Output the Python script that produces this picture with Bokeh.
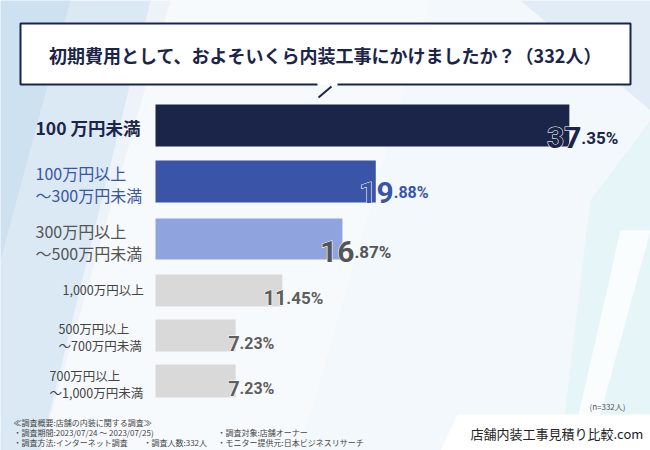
from bokeh.plotting import figure
from bokeh.models import Range1d, ColumnDataSource
from bokeh.core.properties import value
from bokeh.embed import file_html
from bokeh.resources import INLINE

# ---------------- data ----------------
categories = [
    "100 万円未満",
    "100万円以上\n～300万円未満",
    "300万円以上\n～500万円未満",
    "1,000万円以上",
    "500万円以上\n～700万円未満",
    "700万円以上\n～1,000万円未満",
]
values = [37.35, 19.88, 16.87, 11.45, 7.23, 7.23]
title_text = "初期費用として、およそいくら内装工事にかけましたか？（332人）"
sample_note = "(n=332人)"
survey_head = "≪調査概要:店舗の内装に関する調査≫"
survey_col1 = ["・調査期間:2023/07/24 ～ 2023/07/25)", "・調査方法:インターネット調査"]
survey_mid = ["", "・調査人数:332人"]
survey_col2 = ["・調査対象:店舗オーナー", "・モニター提供元:日本ビジネスリサーチ"]
brand = "店舗内装工事見積り比較.com"

# ---------------- layout / style ----------------
W, H = 650, 450
BAR_LEFT = 155.0
PX_PER_PCT = 11.08


def X(px):
    return (px - BAR_LEFT) / PX_PER_PCT


JP = value("Noto Sans CJK JP")
NUM = value("Roboto")
NAVY = "#1b2549"

row_center = [125, 181, 238.5, 290, 335, 380.5]
row_height = [42, 42, 41, 32, 32, 33]
bar_colors = [NAVY, "#3a55a8", "#8fa4df", "#d9d9d9", "#d9d9d9", "#d9d9d9"]
lab_colors = [NAVY, "#3a55a8", "#555555", "#444444", "#444444", "#444444"]
lab_sizes = ["17.5px", "16px", "16px", "12.5px", "12.5px", "12.5px"]
lab_styles = ["bold", "normal", "normal", "normal", "normal", "normal"]
lab_left = [35, 35, 35, 62, 58, 49]
lab_center = [127, 183, 241, 289, 336.5, 383]
lab_half = [0, 11, 11, 0, 8.5, 8.5]
val_colors = [NAVY, "#3a55a8", "#555555", "#5e5e5e", "#5e5e5e", "#5e5e5e"]
int_sizes = ["30px", "30px", "30px", "20px", "20px", "20px"]
dec_sizes = ["17px", "16px", "17px", "17px", "16px", "16px"]
val_xoff = [12, 18, 12, 4, 4, 4]
val_base = [12, 11, 12.5, 7, 8, 7.5]

p = figure(width=W, height=H, output_backend="svg", toolbar_location=None,
           x_range=Range1d(X(0), X(W)), y_range=Range1d(H, 0),
           x_axis_location=None, y_axis_location=None, min_border=0)
p.grid.visible = False
p.outline_line_color = None
p.background_fill_color = "#edf3f9"
p.border_fill_color = "#edf3f9"

# ---------------- background decoration ----------------
p.patch([X(0), X(150), X(40), X(0)], [0, 0, 450, 450], fill_color="#d6e6f4", fill_alpha=0.8, line_color=None)
p.patch([X(0), X(70), X(0)], [0, 0, 260], fill_color="#c9ddf0", fill_alpha=0.7, line_color=None)
p.patch([X(170), X(430), X(300), X(40)], [0, 0, 450, 450], fill_color="#ffffff", fill_alpha=0.55, line_color=None)
p.patch([X(430), X(650), X(650), X(300)], [0, 0, 450, 450], fill_color="#f4f9fc", fill_alpha=0.7, line_color=None)
p.patch([X(520), X(650), X(650)], [0, 0, 110], fill_color="#dde9f5", fill_alpha=0.8, line_color=None)
p.patch([X(590), X(650), X(650), X(560)], [200, 120, 450, 450], fill_color="#e4f4f7", fill_alpha=0.9, line_color=None)
p.patch([X(620), X(650), X(590), X(570)], [230, 230, 450, 450], fill_color="#ffffff", fill_alpha=0.8, line_color=None)

# ---------------- title box ----------------
p.quad(left=X(20), right=X(630), top=23, bottom=84, fill_color="white", line_color=None)
p.multi_line(xs=[[X(337), X(630), X(630), X(20), X(20), X(317)], [X(318), X(331)]],
             ys=[[84, 84, 23, 23, 84, 84], [97, 86]],
             line_color=NAVY, line_width=2)
p.text(x=[X(325)], y=[54], text=[title_text], text_font=JP, text_font_size="18px",
       text_font_style="bold", text_color=NAVY, text_align="center", text_baseline="middle")

# ---------------- bars ----------------
bars = ColumnDataSource(dict(y=row_center, right=values, h=row_height, color=bar_colors))
p.hbar(y="y", left=0, right="right", height="h", fill_color="color", line_color=None, source=bars)

# value labels: integer part large (white halo underneath), decimal part small
int_parts = [f"{v:.2f}".split(".")[0] for v in values]
dec_parts = ["." + f"{v:.2f}".split(".")[1] + "%" for v in values]
vals = ColumnDataSource(dict(
    x=values, y=[c + b for c, b in zip(row_center, val_base)],
    ti=int_parts, td=dec_parts, col=val_colors, si=int_sizes, sd=dec_sizes, xo=val_xoff))
p.text(x="x", y="y", text="ti", x_offset="xo", text_align="right", text_baseline="alphabetic",
       text_font=NUM, text_font_style="bold", text_font_size="si", text_color="white",
       text_outline_color="white", source=vals)
p.text(x="x", y="y", text="ti", x_offset="xo", text_align="right", text_baseline="alphabetic",
       text_font=NUM, text_font_style="bold", text_font_size="si", text_color="col", source=vals)
p.text(x="x", y="y", text="td", x_offset="xo", text_align="left", text_baseline="alphabetic",
       text_font=NUM, text_font_style="bold", text_font_size="sd", text_color="col", source=vals)

# category labels
lx, ly, lt, lc, ls, lf = [], [], [], [], [], []
for i, cat in enumerate(categories):
    lines = cat.split("\n")
    n = len(lines)
    for j, line in enumerate(lines):
        lx.append(X(lab_left[i]))
        ly.append(lab_center[i] + (j - (n - 1) / 2) * 2 * lab_half[i])
        lt.append(line)
        lc.append(lab_colors[i])
        ls.append(lab_sizes[i])
        lf.append(lab_styles[i])
labs = ColumnDataSource(dict(x=lx, y=ly, t=lt, c=lc, s=ls, f=lf))
p.text(x="x", y="y", text="t", text_align="left", text_baseline="middle", text_font=JP,
       text_font_size="s", text_font_style="f", text_color="c", source=labs)

# ---------------- footer ----------------
p.text(x=[X(625)], y=[406], text=[sample_note], text_align="right", text_baseline="middle",
       text_font=JP, text_font_size="8px", text_color="#555555")
p.text(x=[X(13)], y=[422], text=[survey_head], text_align="left", text_baseline="middle",
       text_font=JP, text_font_size="8px", text_color="#444444")
p.text(x=[X(13)] * 2, y=[432, 442], text=survey_col1, text_align="left", text_baseline="middle",
       text_font=JP, text_font_size="8px", text_color="#444444")
p.text(x=[X(143)] * 2, y=[432, 442], text=survey_mid, text_align="left", text_baseline="middle",
       text_font=JP, text_font_size="8px", text_color="#444444")
p.text(x=[X(217)] * 2, y=[432, 442], text=survey_col2, text_align="left", text_baseline="middle",
       text_font=JP, text_font_size="8px", text_color="#444444")

p.patch([X(440), X(457), X(650), X(650)], [450, 414, 414, 450], fill_color="white", line_color=None)
p.text(x=[X(470)], y=[433], text=[brand], text_align="left", text_baseline="middle",
       text_font=JP, text_font_size="13px", text_color="#222222")

open("out.html", "w").write(file_html(p, INLINE))
